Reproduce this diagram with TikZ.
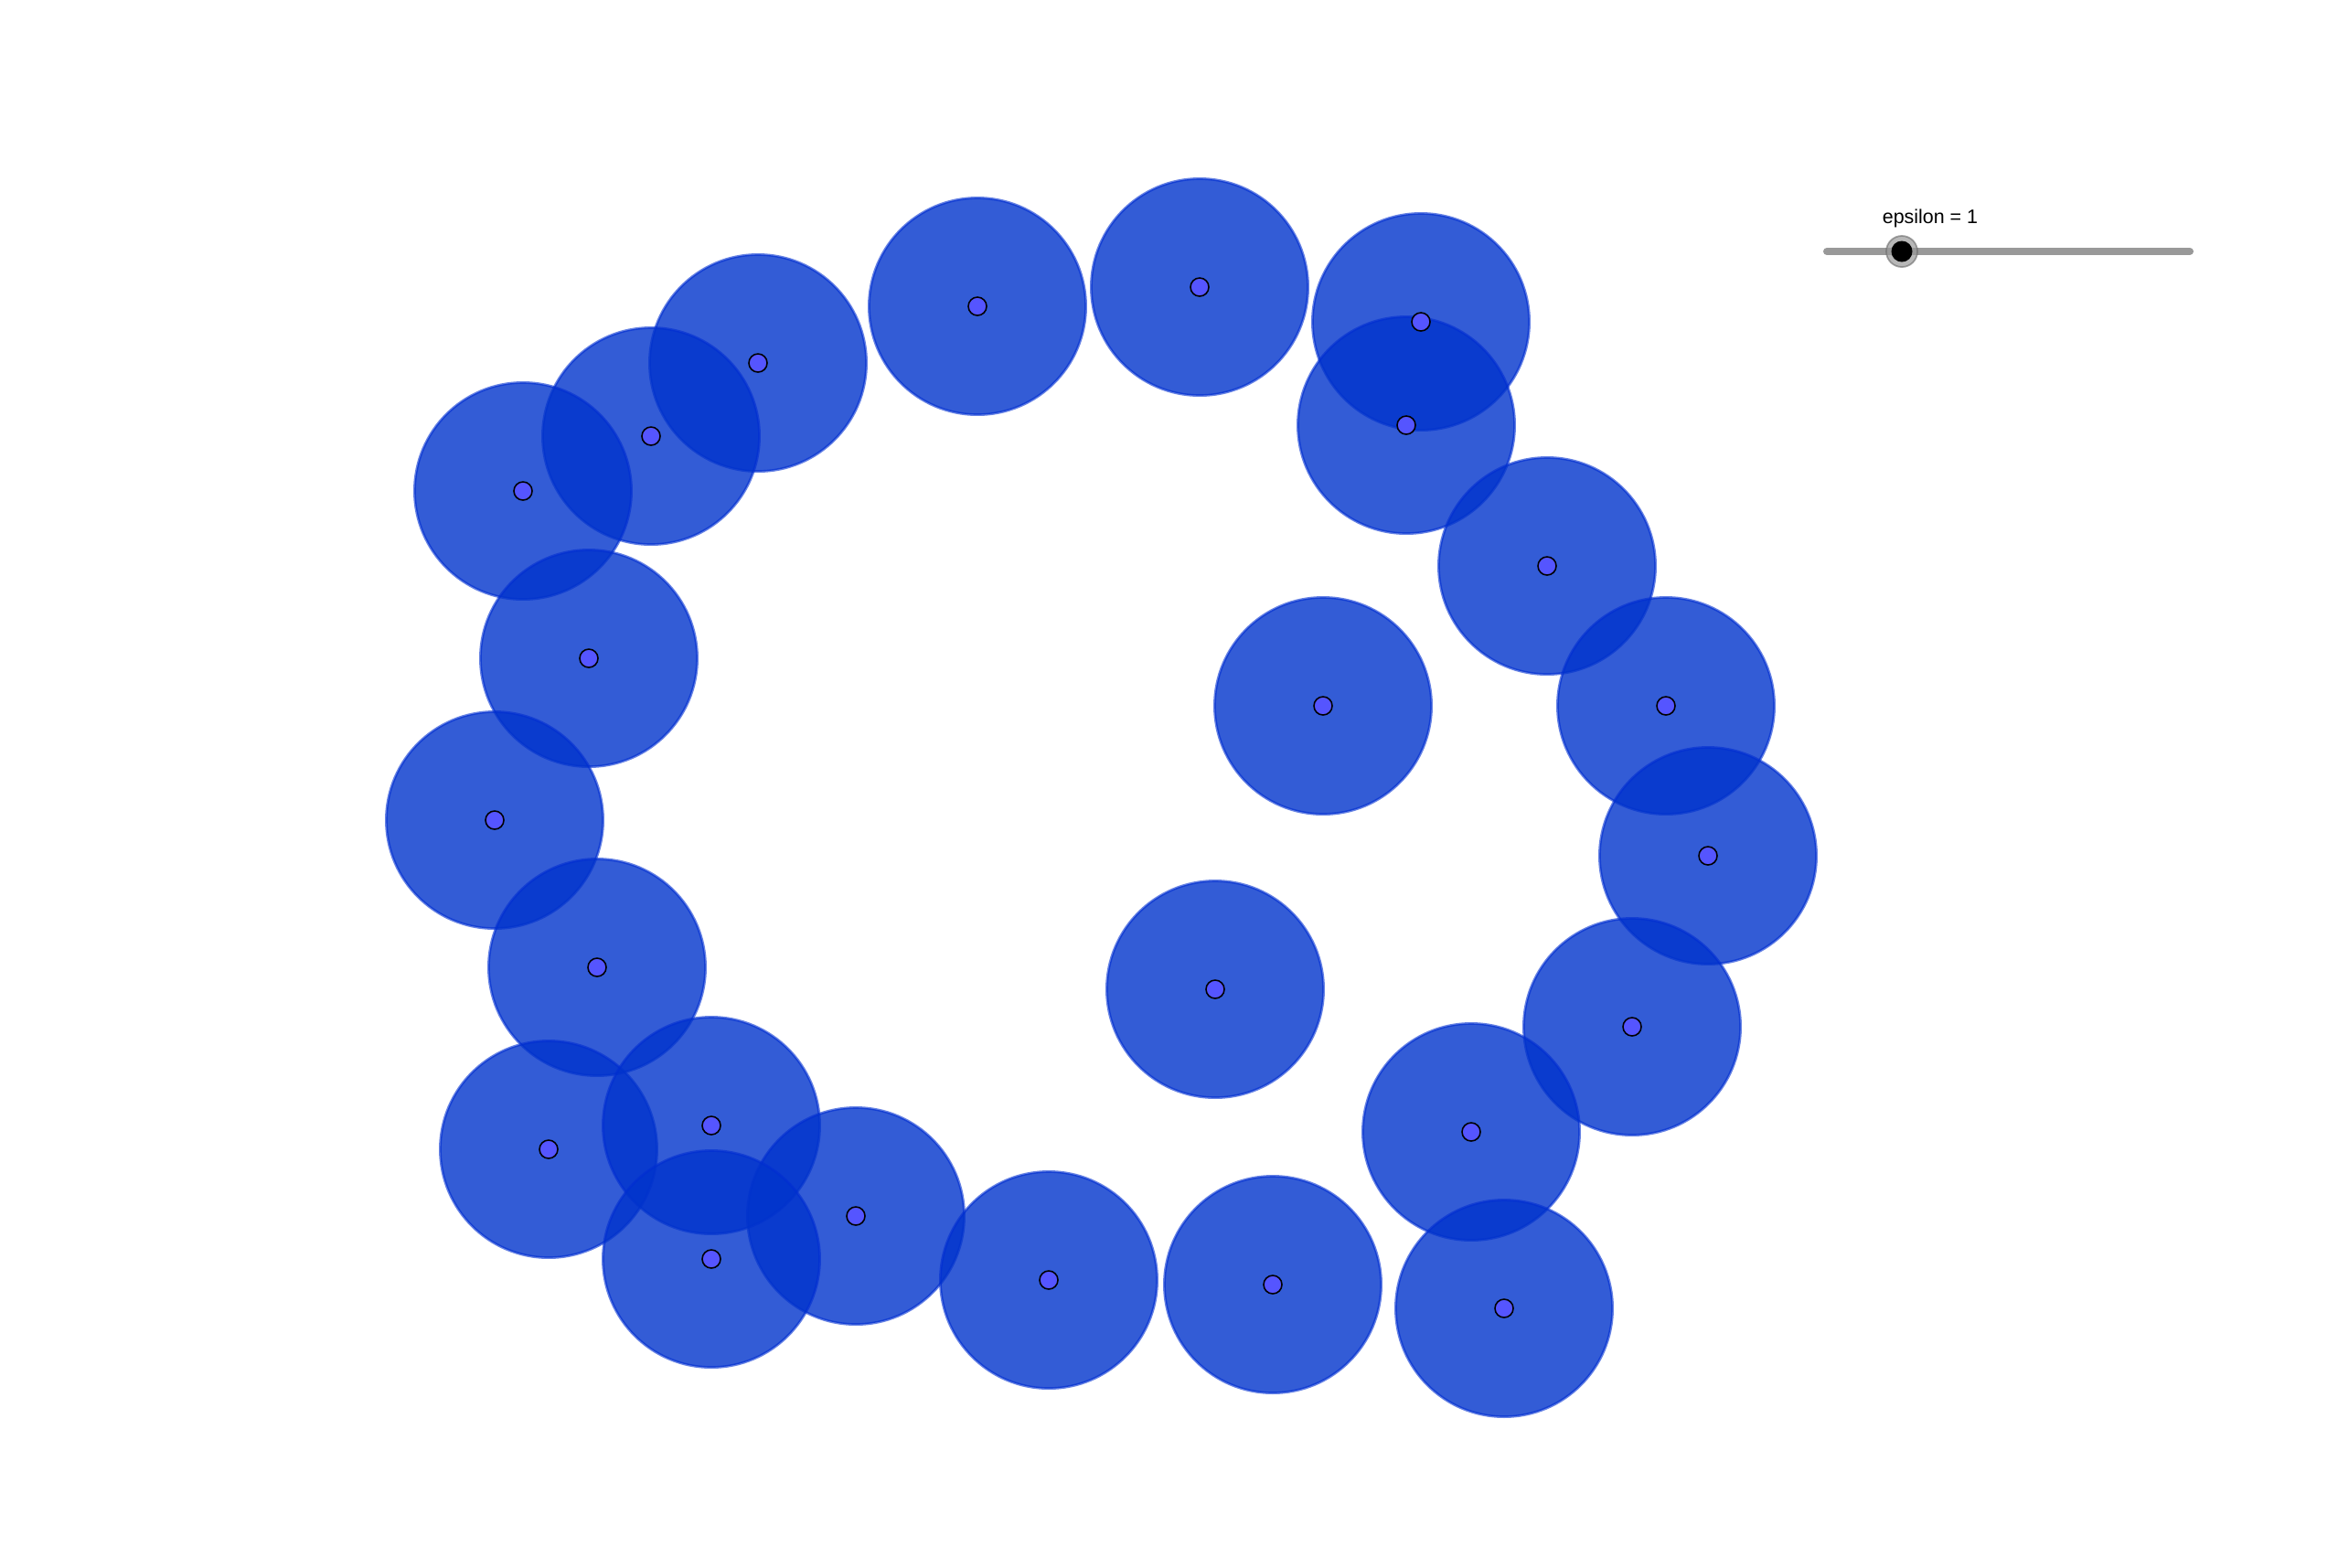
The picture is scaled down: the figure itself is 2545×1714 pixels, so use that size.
\documentclass[tikz,border=0pt]{standalone}
\usepackage{fontspec}
\setmainfont{Liberation Sans}
\definecolor{ballblue}{RGB}{0,51,204}
\definecolor{ptblue}{RGB}{85,85,255}
\definecolor{slidergray}{RGB}{153,153,153}

\begin{document}
\begin{tikzpicture}
[x=0.01cm,y=-0.01cm,
  epsball/.style={shape=circle,inner sep=0pt,minimum size=2.37cm,
    fill=ballblue,fill opacity=0.8,draw=ballblue!90!blue,draw opacity=0.6,line width=0.8pt},%
  ptdecorate/.style={shape=circle,inner sep=0pt,minimum size=0.2cm,
    fill=ptblue,draw=black,line width=0.45pt},
  sliderline/.style={-,line width=2.3pt,line cap=round,draw=slidergray}]
\useasboundingbox (0,0) rectangle (2545,1714);
%% balls and their centres
\foreach \nodename/\x/\y in {
  1/1069/335, 2/1312/314, 3/1554/352, 4/1538/465, 5/829/397,
  6/712/477, 7/572/537, 8/644/720, 9/1692/619, 10/1447/772,
  11/1822/772, 12/541/897, 13/1868/936, 14/653/1058, 15/1329/1082,
  16/1785/1123, 17/600/1257, 18/778/1231, 19/1609/1238, 20/936/1330,
  21/778/1377, 22/1147/1400, 23/1392/1405, 24/1645/1431}
{
  \node (b\nodename) at (\x,\y) [epsball] {};
}
\foreach \nodename in {1,...,24}
{
  \node (p\nodename) at (b\nodename.center) [ptdecorate] {};
}
%% slider
\coordinate (smin) at (1998,275);
\coordinate (smax) at (2395,275);
\draw[sliderline] (smin) -- (smax);
\node (knobring) at (2080,275) [shape=circle,inner sep=0pt,minimum size=0.34cm,
  fill=slidergray,fill opacity=0.7,draw=slidergray!70!black,draw opacity=0.6,line width=0.5pt] {};
\node (knob) at (knobring.center) [shape=circle,inner sep=0pt,minimum size=0.23cm,fill=black] {};
\node (epslabel) at (2111,239) [inner sep=0pt,font=\fontsize{6.1pt}{7pt}\selectfont] {epsilon = 1};
\end{tikzpicture}
\end{document}
